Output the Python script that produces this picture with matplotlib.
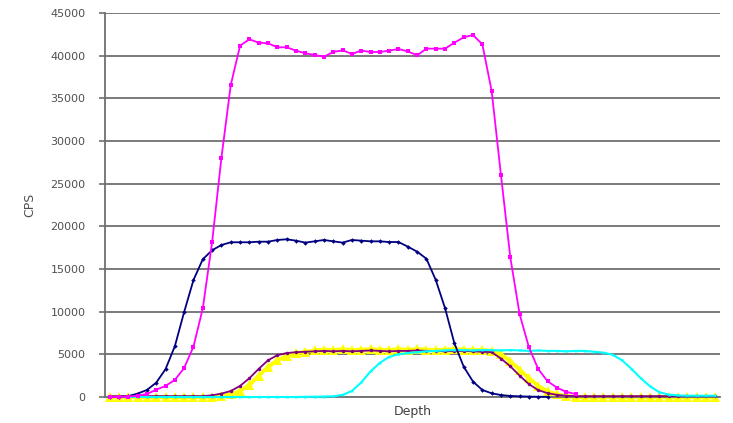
import matplotlib
matplotlib.use("Agg")
import matplotlib.pyplot as plt
import numpy as np

# depth points (66 categories)
depth = np.arange(66)

# CPS profiles
magenta_cps = [0, 0, 50, 150, 350, 850, 1300, 2000, 3400, 5900,
               10400, 18150, 28050, 36560, 41170, 41920, 41520, 41450, 40980, 40980,
               40590, 40280, 40080, 39880, 40430, 40630, 40200, 40590, 40430, 40430,
               40590, 40780, 40500, 40040, 40820, 40820, 40820, 41520, 42150, 42420,
               41330, 35860, 25980, 16370, 9700, 5820, 3260, 1850, 1100, 600,
               350] + [np.nan] * 15

navy_cps = [0, 0, 100, 400, 820, 1680, 3260, 5950, 9970, 13710,
            16140, 17200, 17810, 18130, 18130, 18130, 18200, 18200, 18400, 18480,
            18320, 18090, 18240, 18400, 18240, 18090, 18400, 18320, 18240, 18240,
            18160, 18160, 17620, 17030, 16200, 13710, 10400, 6290, 3550, 1800,
            820, 430, 230, 120, 80, 50, 30, 20] + [np.nan] * 18

purple_cps = [100, 100, 100, 100, 100, 100, 100, 100, 100, 100,
              100, 200, 400, 700, 1300, 2200, 3300, 4300, 4900, 5150,
              5250, 5300, 5350, 5400, 5350, 5400, 5350, 5400, 5450, 5400,
              5350, 5400, 5400, 5450, 5400, 5400, 5350, 5400, 5400, 5350,
              5300, 5250, 4500, 3600, 2500, 1500, 800, 450, 250, 150,
              100, 100, 100, 100, 100, 100, 100, 100, 100, 100,
              100, 100, 100, 100, 100, 100]

yellow_cps = [0, 0, 0, 0, 0, 0, 0, 0, 0, 0,
              0, 0, 100, 300, 700, 1400, 2500, 3500, 4300, 4800,
              5100, 5300, 5450, 5550, 5500, 5600, 5500, 5550, 5600, 5550,
              5500, 5600, 5550, 5600, 5550, 5500, 5550, 5600, 5550, 5500,
              5500, 5400, 5000, 4200, 3200, 2200, 1300, 650, 300, 100,
              0, 0, 0, 0, 0, 0, 0, 0, 0, 0,
              0, 0, 0, 0, 0, 0]

cyan_cps = [0, 0, 0, 0, 0, 0, 0, 0, 0, 0,
            0, 0, 0, 0, 0, 0, 0, 0, 0, 0,
            0, 20, 30, 50, 80, 250, 700, 1700, 3000, 4000,
            4700, 5000, 5150, 5250, 5350, 5400, 5450, 5500, 5500, 5450,
            5500, 5500, 5450, 5500, 5450, 5400, 5450, 5400, 5400, 5350,
            5400, 5400, 5300, 5200, 4950, 4300, 3300, 2200, 1250, 550,
            280, 180, 150, 150, 150, 150]

yticks = np.arange(0, 45001, 5000)

fig = plt.figure(figsize=(7.33, 4.23), dpi=100)
ax = fig.add_axes([0.1432, 0.0615, 0.8390, 0.9078])

# horizontal gridlines
ax.set_yticks(yticks)
ax.grid(axis='y', color='#707070', linewidth=1.3, zorder=1)
ax.set_axisbelow(True)

ax.plot(depth, yellow_cps, color='#ffff00', linewidth=2.8, marker='^',
        markersize=6.5, markeredgewidth=0, zorder=2, clip_on=False)
ax.plot(depth, purple_cps, color='#800080', linewidth=1.3, marker='o',
        markersize=2.5, markeredgewidth=0, zorder=3, clip_on=False)
ax.plot(depth, cyan_cps, color='#00ffff', linewidth=1.5, marker='x',
        markersize=1.5, markeredgewidth=0.6, zorder=4, clip_on=False)
ax.plot(depth, navy_cps, color='#000080', linewidth=1.3, marker='D',
        markersize=2.3, markeredgewidth=0, zorder=5, clip_on=False)
ax.plot(depth, magenta_cps, color='#ff00ff', linewidth=1.3, marker='s',
        markersize=3.3, markeredgewidth=0, zorder=6, clip_on=False)

ax.set_xlim(-0.5, 65.5)
ax.set_ylim(0, 45000)
ax.set_xticks([])

for side in ['top', 'right']:
    ax.spines[side].set_visible(False)
ax.spines['left'].set_color('#707070')
ax.spines['left'].set_linewidth(1.3)
ax.spines['bottom'].set_color('#707070')
ax.spines['bottom'].set_linewidth(1.3)

ax.tick_params(axis='y', direction='out', length=4, width=1.2, color='#707070',
               labelsize=8, labelcolor='#505050', pad=10)
ax.set_yticklabels([str(v) for v in yticks])

ax.set_ylabel('CPS', fontsize=9, color='#505050', labelpad=10)
ax.set_xlabel('Depth', fontsize=9, color='#404040', labelpad=6)

fig.savefig('out.png', dpi=100, facecolor='white')
